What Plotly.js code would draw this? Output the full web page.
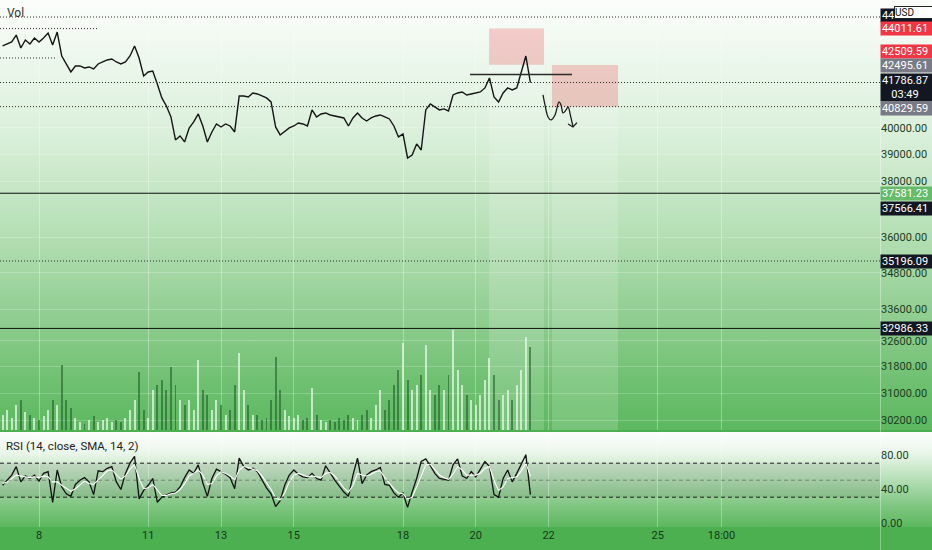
<!DOCTYPE html>
<html>
<head>
<meta charset="utf-8">
<script src="https://cdn.plot.ly/plotly-3.0.1.min.js"></script>
<style>
  html, body { margin: 0; padding: 0; background: #ffffff; }
  #wrap { position: relative; width: 932px; height: 550px; overflow: hidden; }
  .bg { position: absolute; left: 0; width: 932px; }
  #bgMain { top: 0; height: 431px; background: linear-gradient(to bottom, #fbfdfb 0%, #eef8ee 12%, #dcf0dc 30%, #b9e1b9 52%, #8fcd90 74%, #6cbf6e 90%, #5db860 100%); }
  #sep { top: 430px; height: 2px; background: #4caf50; }
  #bgRsi { top: 432px; height: 95px; background: linear-gradient(to bottom, #fdfefd 0%, #eaf6ea 22%, #b5dfb6 50%, #7fc681 78%, #5cb85e 100%); }
  #bgAxis { top: 527px; height: 23px; background: #4caf50; }
  #vsep { position: absolute; top: 0; left: 880px; width: 1px; height: 550px; background: rgba(255,255,255,0.35); }
  #chart { position: absolute; left: 0; top: 0; width: 932px; height: 550px; }
</style>
</head>
<body>
<div id="wrap">
  <div class="bg" id="bgMain"></div>
  <div class="bg" id="sep"></div>
  <div class="bg" id="bgRsi"></div>
  <div class="bg" id="bgAxis"></div>
  <div id="vsep"></div>
  <div id="chart"></div>
</div>
<script>
// ---------- data ----------
const seriesStart = '2022-04-07 00:00';   // first 3-hour sample
const stepHours = 3;

const closePrices = [43282,43366,43450,43741,43199,43533,43366,43617,43450,43617,
  43825,43324,43867,42867,42540,42214,42458,42458,42377,42417,
  42336,42540,42621,42703,42744,42621,42540,42621,42867,43282,
  42785,42052,42214,42255,41729,41171,40856,40426,39542,39695,
  39466,40000,40232,40543,40077,39466,39847,40155,40039,40155,
  40077,39847,41250,41250,41210,41370,41330,41250,41171,41013,
  40039,39733,39885,40000,40077,40193,40155,40077,40700,40426,
  40543,40582,40504,40465,40426,40387,40077,40387,40582,40387,
  40270,40387,40465,40504,40426,40348,40077,39657,39771,38862,
  38974,39391,39161,40700,40934,40817,40700,40739,40661,41290,
  41370,41410,41290,41330,41370,41410,41570,41971,41210,41013,
  41370,41570,41490,41570,42214,42867,41787];

const volumes = [15,20,12,25,30,18,15,12,10,14, 20,30,25,65,30,22,12,8,6,10,
  14,8,10,12,8,10,8,12,20,30, 58,20,12,40,45,50,40,63,45,30,
  25,30,20,70,40,35,20,30,25,15, 20,45,77,40,25,15,15,10,12,30,
  73,40,20,14,12,15,10,12,42,15, 10,8,10,8,12,10,15,12,10,15,
  20,12,25,40,20,30,45,60,87,50, 40,45,55,85,40,35,45,40,55,100,
  60,45,35,30,25,35,50,72,55,30, 35,40,30,45,60,93,83];

const rsiValues = [44,50,56,66,48,55,52,56,49,58, 60,24,62,42,34,31,45,50,53,48,
  33,61,60,64,66,48,39,58,70,78, 28,38,44,52,24,30,33,35,36,42,
  53,62,58,68,47,31,52,63,60,57, 53,40,76,66,62,64,60,50,41,34,
  19,26,44,56,62,57,54,53,58,52, 50,67,58,50,43,36,31,56,76,46,
  56,60,62,65,45,44,35,30,35,18, 36,52,72,75,67,58,52,51,50,68,
  75,55,52,60,54,63,72,66,33,30, 52,62,48,58,70,80,33];

const rsiMaValues = [46,48,52,56,55,54,53,54,53,55, 54,48,48,44,40,37,40,45,49,46,
  45,50,56,61,62,57,51,55,63,68, 52,40,41,45,38,32,32,34,35,39,
  46,55,58,62,56,45,46,55,60,58, 55,50,62,66,65,63,61,55,47,39,
  29,27,35,48,56,58,56,54,55,54, 53,58,59,55,48,41,36,44,58,56,
  55,57,60,61,53,46,40,35,34,28, 30,42,56,68,69,63,56,53,51,57,
  66,62,56,56,56,58,64,66,50,38, 42,52,53,54,61,70,55];

// axis ticks
const dateTickVals = ['2022-04-08','2022-04-11','2022-04-13','2022-04-15','2022-04-18','2022-04-20','2022-04-22','2022-04-25','2022-04-26 18:00'];
const dateTickText = ['8','11','13','15','18','20','22','25','18:00'];
const priceTicks = [30200,31000,31800,32600,33600,34800,36000,38000,39000,40000,45000];
const rsiTicks = [0,40,80];
const xRange = ['2022-04-06 22:17','2022-05-01 02:30'];
const priceRange = [29917, 45239];
const rsiRange = [-5.06, 106.7];

// horizontal levels
const dottedLevels = [44504.90, 41786.87, 40829.59, 35196.09];
const shortDotted = [[44011.61, '2022-04-09 15:33'], [42785, '2022-04-08 10:33']];
const solidLevels = [37566.41, 32986.33];
const trendLine = {t0:'2022-04-19 20:11', t1:'2022-04-22 15:26', price:42112};

// position tool boxes
const boxTimes = [['2022-04-20 08:43','2022-04-21 20:58'], ['2022-04-22 02:14','2022-04-23 21:46']];
const boxPrices = [[42509.59, 44011.61], [40829.59, 42495.61]];

// hand-drawn projection
const sketchTimes = ['2022-04-21 20:18','2022-04-21 21:37','2022-04-21 23:37','2022-04-22 01:35','2022-04-22 04:13','2022-04-22 06:52','2022-04-22 08:11','2022-04-22 09:30','2022-04-22 11:28','2022-04-22 12:48','2022-04-22 14:46','2022-04-22 16:05'];
const sketchPrices = [41290,40895,40426,40309,40504,41013,40895,40582,40700,40817,40387,40039];
const headTimes = ['2022-04-22 12:48','2022-04-22 16:05','2022-04-22 18:43'];
const headPrices = [40155,40039,40206];

// right-axis price labels
const labelValues = [44504.90, 44011.61, 42509.59, 42495.61, 41786.87, 40829.59, 37581.23, 37566.41, 35196.09, 32986.33];
const labelTexts  = ['44504.90','44011.61','42509.59','42495.61','41786.87<br>03:49','40829.59','37581.23','37566.41','35196.09','32986.33'];
const labelColors = ['#131722','#f23645','#f23645','#787b86','#131722','#787b86','#66bb6a','#131722','#131722','#131722'];

// ---------- build ----------
function fmt(ms) { return new Date(ms).toISOString().slice(0,16).replace('T',' '); }
const t0 = Date.parse(seriesStart.replace(' ','T') + ':00Z');
const times = closePrices.map((_, i) => fmt(t0 + i * stepHours * 3600000));

const volColors = volumes.map((_, i) => (i === 0 || closePrices[i] >= closePrices[i-1]) ? 'rgba(236,250,236,0.72)' : 'rgba(24,86,34,0.55)');

const FONT = 'Roboto, "Noto Sans", sans-serif';

const traces = [
  {x: times, y: volumes, type: 'bar', xaxis: 'x', yaxis: 'y3', marker: {color: volColors, line: {width: 0}}, width: 3600000*1.3, hoverinfo: 'skip'},
  {x: times, y: closePrices, type: 'scatter', mode: 'lines', xaxis: 'x', yaxis: 'y', line: {color: '#151515', width: 1.4}, hoverinfo: 'skip'},
  {x: sketchTimes, y: sketchPrices, type: 'scatter', mode: 'lines', xaxis: 'x', yaxis: 'y', line: {color: '#1b1b1b', width: 1.3, shape: 'spline'}, hoverinfo: 'skip'},
  {x: headTimes, y: headPrices, type: 'scatter', mode: 'lines', xaxis: 'x', yaxis: 'y', line: {color: '#1b1b1b', width: 1.3}, hoverinfo: 'skip'},
  {x: times, y: rsiValues, type: 'scatter', mode: 'lines', xaxis: 'x', yaxis: 'y2', line: {color: '#111111', width: 1.3}, hoverinfo: 'skip'},
  {x: times, y: rsiMaValues, type: 'scatter', mode: 'lines', xaxis: 'x', yaxis: 'y2', line: {color: '#ffffff', width: 1.1}, hoverinfo: 'skip'}
];

const shapes = [];
// RSI band and levels
shapes.push({type:'rect', xref:'paper', x0:0, x1:1, yref:'y2', y0:30, y1:70, fillcolor:'rgba(40,50,40,0.11)', line:{width:0}, layer:'below'});
[70,30].forEach(v => shapes.push({type:'line', xref:'paper', x0:0, x1:1, yref:'y2', y0:v, y1:v, line:{color:'#1e1e1e', width:1, dash:'4px,3px'}}));
shapes.push({type:'line', xref:'paper', x0:0, x1:1, yref:'y2', y0:50, y1:50, line:{color:'rgba(50,60,50,0.45)', width:1, dash:'4px,3px'}});
// column highlights below position boxes
boxTimes.forEach((bt, k) => shapes.push({type:'rect', xref:'x', x0:bt[0], x1:bt[1], yref:'y', y0:priceRange[0], y1:boxPrices[k][0], fillcolor:'rgba(255,255,255,0.16)', line:{width:0}, layer:'below'}));
// position boxes
boxTimes.forEach((bt, k) => shapes.push({type:'rect', xref:'x', x0:bt[0], x1:bt[1], yref:'y', y0:boxPrices[k][0], y1:boxPrices[k][1], fillcolor:'rgba(242,54,69,0.24)', line:{width:0}, layer:'below'}));
// price levels
dottedLevels.forEach(v => shapes.push({type:'line', xref:'paper', x0:0, x1:1, yref:'y', y0:v, y1:v, line:{color:'#2a2a2a', width:1, dash:'1px,2px'}}));
shortDotted.forEach(s => shapes.push({type:'line', xref:'x', x0:xRange[0], x1:s[1], yref:'y', y0:s[0], y1:s[0], line:{color:'#2a2a2a', width:1, dash:'1px,2px'}}));
solidLevels.forEach(v => shapes.push({type:'line', xref:'paper', x0:0, x1:1, yref:'y', y0:v, y1:v, line:{color:'#111111', width:1}}));
shapes.push({type:'line', xref:'x', x0:trendLine.t0, x1:trendLine.t1, yref:'y', y0:trendLine.price, y1:trendLine.price, line:{color:'#2b2b2b', width:1.6}});

const labelShift = [2, 0, 13, 0, -5, -2, -1, -15, 0, 0];
const annotations = labelValues.map((v, i) => ({
  xref:'paper', x:1, xanchor:'left', xshift:0,
  yref:'y', y:Math.log10(v), yanchor:'middle', yshift:labelShift[i],
  text:labelTexts[i], showarrow:false, bgcolor:labelColors[i],
  font:{family:FONT, size:11, color:'#ffffff'}, borderpad:0, width:48, align:'center'
}));
annotations.push({xref:'paper', x:1, xanchor:'left', xshift:14, yref:'paper', y:1, yanchor:'top', yshift:-6,
  text:'USD', showarrow:false, bgcolor:'#ffffff', bordercolor:'#222222', borderwidth:1, borderpad:0,
  font:{family:FONT, size:10, color:'#111111'}});
annotations.push({xref:'paper', x:0, xanchor:'left', xshift:5, yref:'paper', y:1, yanchor:'top', yshift:-4,
  text:'Vol', showarrow:false, font:{family:FONT, size:12, color:'#333333'}});
annotations.push({xref:'paper', x:0, xanchor:'left', xshift:4, yref:'paper', y:0.1803, yanchor:'top', yshift:-5,
  text:'RSI (14, close, SMA, 14, 2)', showarrow:false, font:{family:FONT, size:11.5, color:'#222222'}});

const layout = {
  width: 932, height: 550,
  margin: {l:0, r:52, t:0, b:23, pad:0},
  paper_bgcolor: 'rgba(0,0,0,0)', plot_bgcolor: 'rgba(0,0,0,0)',
  showlegend: false, bargap: 0,
  font: {family: FONT, size: 11, color: '#1c3d20'},
  xaxis: {type:'date', range:xRange, anchor:'y2', tickmode:'array', tickvals:dateTickVals, ticktext:dateTickText,
    showgrid:true, gridcolor:'rgba(255,255,255,0.33)', gridwidth:1, zeroline:false, showline:false, ticks:'',
    tickfont:{family:FONT, size:11, color:'#17371b'}, fixedrange:true},
  yaxis: {domain:[0.1841, 1], type:'log', range:[Math.log10(priceRange[0]), Math.log10(priceRange[1])], side:'right',
    tickmode:'array', tickvals:priceTicks, ticktext:priceTicks.map(v => v.toFixed(2)),
    showgrid:true, gridcolor:'rgba(255,255,255,0.22)', zeroline:false, showline:false, ticks:'',
    tickfont:{family:FONT, size:11, color:'#1c3d20'}, fixedrange:true},
  yaxis2: {domain:[0, 0.1803], range:rsiRange, side:'right', tickmode:'array', tickvals:rsiTicks,
    ticktext:rsiTicks.map(v => v.toFixed(2)), showgrid:false, zeroline:false, showline:false, ticks:'',
    tickfont:{family:FONT, size:11, color:'#1c3d20'}, fixedrange:true},
  yaxis3: {overlaying:'y', range:[0, 430], visible:false, fixedrange:true},
  shapes: shapes,
  annotations: annotations
};

Plotly.newPlot('chart', traces, layout, {displayModeBar:false, staticPlot:true});
</script>
</body>
</html>
